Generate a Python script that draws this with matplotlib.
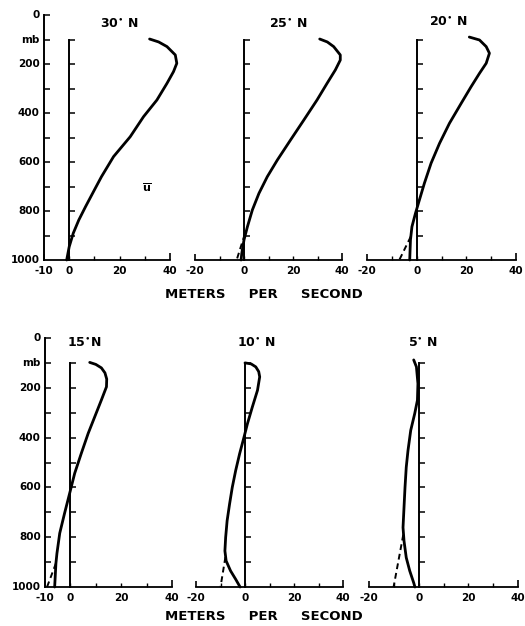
"""Vertical profiles of the mean zonal wind at six latitudes (pressure in mb vs m/s)."""
import numpy as np
import matplotlib.pyplot as plt
from matplotlib.transforms import offset_copy

W, H = 525, 626

# --- data: pressure (mb) and u (m/s) ---
P_30N = [98, 110, 129, 163, 197, 231, 279, 347, 415, 497, 578, 660, 714, 782, 837, 891, 946, 1000]
U_30N = [31.9, 35.5, 38.8, 42.1, 42.7, 41.4, 38.8, 34.8, 29.5, 24.2, 17.6, 12.8, 10.0, 6.5, 3.8, 1.6, 0.0, -1.0]

P_25N = [98, 110, 129, 163, 184, 224, 279, 347, 429, 510, 592, 660, 728, 796, 864, 918, 973, 1000]
U_25N = [30.9, 34.0, 36.6, 39.3, 39.3, 37.3, 33.9, 29.8, 24.4, 19.0, 13.6, 9.5, 6.1, 3.4, 1.4, 0.0, -0.9, -1.2]
P_25N_DASH = [895, 1000]
U_25N_DASH = [0.3, -3.0]

P_20N = [90, 102, 129, 156, 197, 238, 293, 361, 442, 524, 605, 687, 755, 810, 864, 918, 1000]
U_20N = [21.2, 25.3, 28.0, 29.3, 28.0, 25.3, 21.9, 17.9, 13.2, 9.2, 5.8, 3.1, 1.1, -0.5, -1.9, -2.5, -2.8]
P_20N_DASH = [905, 1000]
U_20N_DASH = [-2.4, -7.0]

P_15N = [98, 106, 120, 140, 165, 196, 249, 316, 383, 463, 543, 624, 704, 784, 865, 905, 1000]
U_15N = [7.6, 10.0, 12.2, 13.6, 14.3, 14.2, 12.2, 9.6, 7.0, 4.3, 1.7, -0.3, -2.3, -4.2, -5.3, -5.7, -6.2]
P_15N_DASH = [905, 1000]
U_15N_DASH = [-5.7, -9.2]

P_10N = [100, 104, 116, 135, 156, 210, 277, 344, 398, 465, 532, 600, 667, 734, 801, 855, 895, 935, 969, 1000]
U_10N = [0.0, 2.5, 4.4, 5.6, 6.0, 5.1, 3.0, 1.0, -0.4, -2.2, -3.8, -5.2, -6.3, -7.3, -7.9, -8.2, -7.7, -5.9, -3.8, -2.0]
P_10N_DASH = [880, 1000]
U_10N_DASH = [-8.0, -10.0]

P_5N = [88, 116, 183, 250, 304, 371, 452, 519, 600, 680, 761, 815, 882, 935, 983, 1000]
U_5N = [-2.0, -0.9, -0.3, -0.5, -1.6, -3.2, -4.3, -5.0, -5.5, -5.9, -6.3, -5.9, -5.0, -3.6, -2.0, -1.5]
P_5N_DASH = [790, 1000]
U_5N_DASH = [-6.2, -10.1]

LEVELS = np.arange(100, 1000, 100)
Y_LABELS = {0: "0", 100: "mb", 200: "200", 400: "400", 600: "600", 800: "800", 1000: "1000"}

FONT = dict(fontfamily="DejaVu Sans", fontweight="bold", color="black")


def add_panel(fig, box, xmin, title, title_xy, p, u, dash=None, left_axis=False):
    """Draw one profile panel; box is (left, right, top, bottom) in pixels."""
    x0, x1, y0, y1 = box
    ax = fig.add_axes([x0 / W, 1 - y1 / H, (x1 - x0) / W, (y1 - y0) / H])
    ax.set_xlim(xmin, 40)
    ax.set_ylim(1000, 0)
    ax.axis("off")

    k = dict(color="black", clip_on=False)

    # base line at 1000 mb with small upward ticks every 10 m/s
    ax.plot([xmin, 40], [1000, 1000], lw=1.3, **k)
    xt = np.arange(xmin, 41, 10)
    ax.plot(xt[1:-1], np.full(len(xt) - 2, 1000), ls="none", marker=2, ms=3, mew=1.0, **k)
    ax.plot([40], [1000], ls="none", marker=2, ms=5, mew=1.2, **k)
    ax.plot([xmin], [1000], ls="none", marker=2, ms=4, mew=1.2, **k)

    # zero line from 100 mb down, ticks to the right
    ax.plot([0, 0], [100, 1000], lw=1.4, **k)
    ax.plot(np.zeros(len(LEVELS)), LEVELS, ls="none", marker=1, ms=4, mew=1.1, **k)

    # x tick labels
    below = offset_copy(ax.transData, fig=fig, y=-4, units="points")
    step = 10 if xmin == -10 else 20
    for v in np.arange(xmin, 41, step):
        if xmin == -10 and v in (10, 30):
            continue
        ax.text(v, 1000, f"{v}", transform=below, ha="center", va="top", fontsize=7.5, **FONT)

    if left_axis:
        ax.plot([xmin, xmin], [0, 1000], lw=1.4, **k)
        ax.plot(np.full(10, xmin), np.arange(0, 1000, 100), ls="none", marker=1, ms=4, mew=1.1, **k)
        left = offset_copy(ax.transData, fig=fig, x=-3, units="points")
        for lev, lab in Y_LABELS.items():
            ax.text(xmin, lev, lab, transform=left, ha="right", va="center", fontsize=7.5, **FONT)

    ax.plot(u, p, lw=2.0, solid_capstyle="round", solid_joinstyle="round", **k)
    if dash is not None:
        ax.plot(dash[1], dash[0], lw=1.4, ls=(0, (3, 2)), **k)

    ax.text(title_xy[0], title_xy[1], title, ha="center", va="center", fontsize=9, **FONT)
    return ax


fig = plt.figure(figsize=(W / 100, H / 100), dpi=100)

ax1 = add_panel(fig, (44, 170, 15, 260), -10, r"30$^{\bullet}$ N", (20, 37), P_30N, U_30N, left_axis=True)
ax1.text(31, 706, r"$\overline{\mathbf{u}}$", ha="center", va="center", fontsize=8, **FONT)
add_panel(fig, (195, 342, 15, 260), -20, r"25$^{\bullet}$ N", (18, 37), P_25N, U_25N, (P_25N_DASH, U_25N_DASH))
add_panel(fig, (367, 516, 15, 260), -20, r"20$^{\bullet}$ N", (13, 29), P_20N, U_20N, (P_20N_DASH, U_20N_DASH))

add_panel(fig, (45, 172, 338, 587), -10, r"15$^{\bullet}$N", (5.5, 20), P_15N, U_15N, (P_15N_DASH, U_15N_DASH), left_axis=True)
add_panel(fig, (196, 343, 338, 587), -20, r"10$^{\bullet}$ N", (4.5, 20), P_10N, U_10N, (P_10N_DASH, U_10N_DASH))
add_panel(fig, (369, 518, 338, 587), -20, r"5$^{\bullet}$ N", (1.6, 20), P_5N, U_5N, (P_5N_DASH, U_5N_DASH))

for ypx in (295, 617):
    fig.text(264 / W, 1 - ypx / H, "METERS     PER     SECOND", ha="center", va="center", fontsize=9.5, **FONT)

fig.savefig("out.png", dpi=100, facecolor="white")
